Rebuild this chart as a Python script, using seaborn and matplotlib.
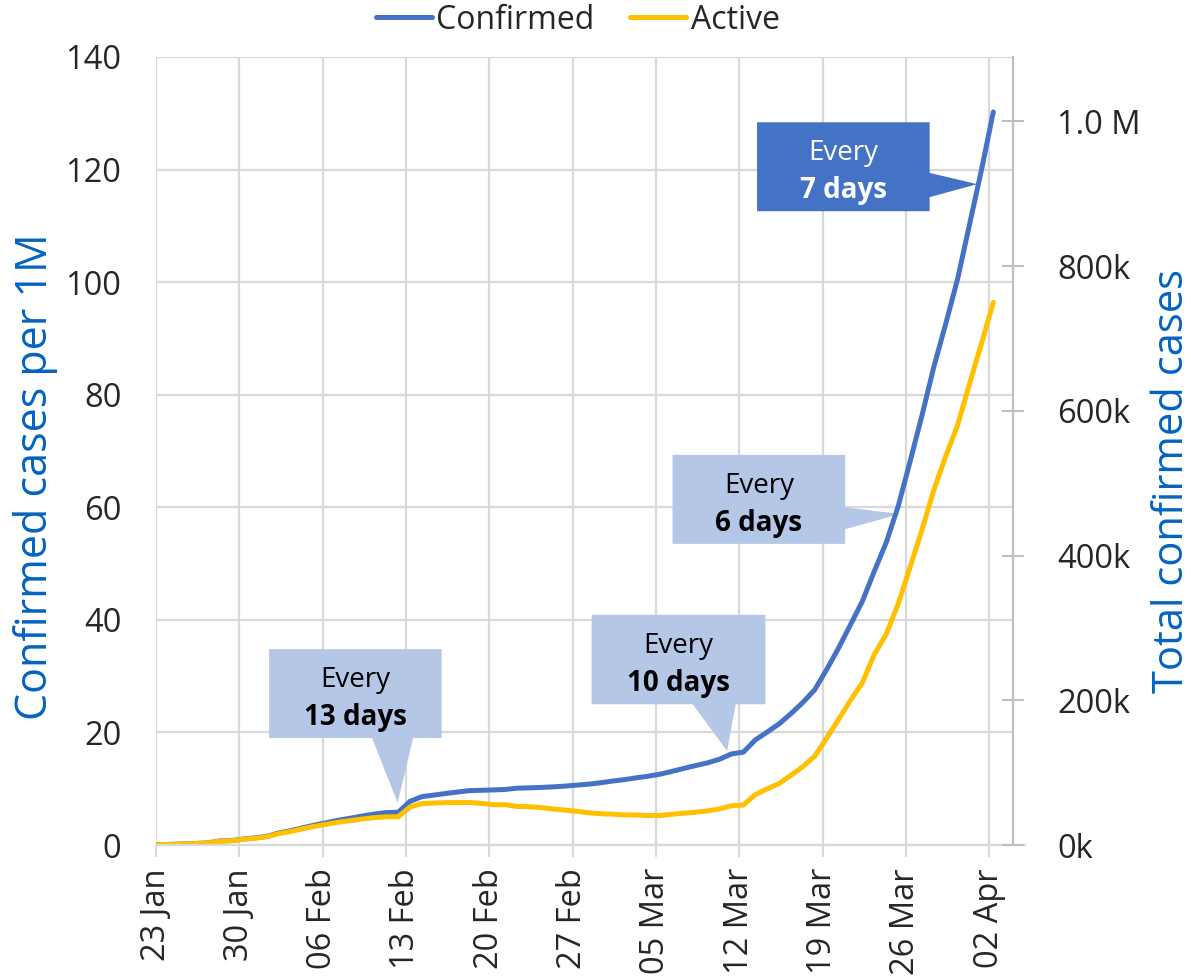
import matplotlib
matplotlib.use('Agg')
import matplotlib.pyplot as plt
import matplotlib.dates as mdates
from matplotlib.patches import Polygon
from matplotlib.ticker import FuncFormatter
import pandas as pd
import seaborn as sns

# daily values, 22 Jan .. 02 Apr (per 1M people)
start_date = '2020-01-22 08:24'
confirmed = [0.07, 0.08, 0.12, 0.18, 0.27, 0.38, 0.72, 0.79, 1.06, 1.28,
             1.55, 2.16, 2.56, 3.07, 3.55, 3.96, 4.42, 4.77, 5.16, 5.50,
             5.76, 5.81, 7.76, 8.60, 8.87, 9.15, 9.42, 9.66, 9.72, 9.79,
             9.87, 10.10, 10.15, 10.23, 10.33, 10.46, 10.64, 10.81, 11.06, 11.36,
             11.61, 11.93, 12.23, 12.58, 13.08, 13.61, 14.12, 14.60, 15.25, 16.18,
             16.50, 18.66, 20.06, 21.52, 23.34, 25.33, 27.61, 31.18, 34.99, 39.14,
             43.31, 48.62, 53.73, 60.11, 68.07, 76.26, 84.92, 92.56, 100.56, 110.22,
             119.87, 130.23]
active = [0.07, 0.08, 0.11, 0.17, 0.26, 0.36, 0.69, 0.76, 1.02, 1.22,
          1.48, 2.05, 2.42, 2.90, 3.34, 3.69, 4.07, 4.33, 4.63, 4.86,
          5.01, 5.01, 6.77, 7.37, 7.45, 7.53, 7.56, 7.55, 7.38, 7.17,
          7.16, 6.84, 6.82, 6.65, 6.40, 6.20, 6.00, 5.72, 5.56, 5.48,
          5.35, 5.33, 5.23, 5.24, 5.46, 5.65, 5.83, 6.06, 6.42, 6.97,
          7.11, 8.94, 9.98, 10.92, 12.39, 13.93, 15.79, 19.00, 22.32, 25.70,
          28.85, 33.85, 37.46, 42.79, 49.30, 55.94, 63.06, 69.04, 74.58, 81.92,
          89.03, 96.39]
series_names = ['Confirmed', 'Active']
series_colors = ['#4472C4', '#FFC000']
people_per_1m = 7780  # world population in millions, for the right axis
right_ticks = [0, 200000, 400000, 600000, 800000, 1000000]

dates = pd.date_range(start_date, periods=len(confirmed), freq='D')
df = pd.DataFrame({
    'date': list(dates) * 2,
    'value': confirmed + active,
    'series': ['Confirmed'] * len(confirmed) + ['Active'] * len(active),
})

sns.set_theme(style='whitegrid')
plt.rcParams['font.family'] = ['Open Sans', 'DejaVu Sans']
grid_c = '#d9d9d9'
label_c = '#0563C1'
tick_fs = 23.5

fig = plt.figure(figsize=(11.91, 9.77), dpi=100)
ax = fig.add_axes([0.131, 0.1351, 0.7195, 0.8066])

sns.lineplot(data=df, x='date', y='value', hue='series', hue_order=series_names,
             palette=dict(zip(series_names, series_colors)), linewidth=3.6, ax=ax)

x0 = pd.Timestamp('2020-01-23')
ax.set_xlim(x0, pd.Timestamp('2020-04-04'))
ax.set_ylim(0, 140)
ax.set_yticks(range(0, 141, 20))
ax.set_xticks(pd.date_range(x0, '2020-04-02', freq='7D'))
ax.xaxis.set_major_formatter(mdates.DateFormatter('%d %b'))
ax.tick_params(axis='x', labelsize=tick_fs, rotation=90, length=8.6, width=1.5,
               color=grid_c, pad=8, bottom=True)
ax.tick_params(axis='y', labelsize=tick_fs, length=0, pad=25)
ax.grid(color=grid_c, linewidth=1.6)
for s in ['left', 'top', 'right']:
    ax.spines[s].set_visible(False)
ax.spines['bottom'].set_color(grid_c)
ax.spines['bottom'].set_linewidth(1.6)
ax.spines['bottom'].set_bounds(mdates.date2num(x0), mdates.date2num(pd.Timestamp('2020-04-05')))
ax.set_xlabel('')
ax.set_ylabel('Confirmed cases per 1M', fontsize=31, color=label_c, va='center')
ax.yaxis.set_label_coords(-0.141, 0.467)

# right axis: total cases
ax2 = ax.twinx()
ax2.set_ylim(0, 140 * people_per_1m)
ax2.set_yticks(right_ticks)
ax2.yaxis.set_major_formatter(FuncFormatter(
    lambda v, p: f'{v / 1e6:.1f} M' if v >= 1e6 else f'{v / 1e3:.0f}k'))
ax2.grid(False)
for s in ['left', 'top', 'bottom']:
    ax2.spines[s].set_visible(False)
ax2.spines['right'].set_color('#bfbfbf')
ax2.spines['right'].set_linewidth(1.6)
ax2.tick_params(axis='y', labelsize=tick_fs, direction='inout', length=16.5, width=1.5,
                color='#bfbfbf', pad=23.4, right=True)
ax2.set_ylabel('Total confirmed cases', fontsize=30, color=label_c, va='baseline',
               rotation=90)
ax2.yaxis.set_label_coords(1.198, 0.462)

# legend on top
handles, labels = ax.get_legend_handles_labels()
ax.get_legend().remove()
fig.legend(handles, labels, loc='center', bbox_to_anchor=(0.485, 0.9795), ncol=2,
           frameon=False, fontsize=23, handlelength=1.75, handletextpad=0.15,
           columnspacing=1.1)


def day(d):
    return mdates.date2num(x0) + d


def callout(box, side, base, tip, fc, tc, bold_text):
    bx0, bx1, by0, by1 = day(box[0]), day(box[1]), box[2], box[3]
    tx, ty = day(tip[0]), tip[1]
    if side == 'bottom':
        b0, b1 = day(base[0]), day(base[1])
        pts = [(bx0, by1), (bx1, by1), (bx1, by0), (b1, by0), (tx, ty), (b0, by0), (bx0, by0)]
    else:
        pts = [(bx0, by1), (bx1, by1), (bx1, base[1]), (tx, ty), (bx1, base[0]), (bx1, by0), (bx0, by0)]
    ax.add_patch(Polygon(pts, closed=True, facecolor=fc, edgecolor='none', zorder=1.5))
    cx = (bx0 + bx1) / 2
    h = by1 - by0
    ax.text(cx, by1 - 0.427 * h, 'Every', ha='center', va='baseline', fontsize=20,
            color=tc, zorder=4)
    ax.text(cx, by1 - 0.854 * h, bold_text, ha='center', va='baseline', fontsize=20,
            fontweight='bold', color=tc, zorder=4)


callout((9.5, 24.0, 19.0, 34.8), 'bottom', (18.15, 21.6), (20.3, 7.5), '#B4C7E7', 'black', '13 days')
callout((36.6, 51.2, 25.0, 40.9), 'bottom', (45.1, 48.7), (47.98, 16.7), '#B4C7E7', 'black', '10 days')
callout((43.4, 57.9, 53.5, 69.3), 'right', (56.1, 60.0), (62.5, 58.8), '#B4C7E7', 'black', '6 days')
callout((50.5, 65.0, 112.6, 128.4), 'right', (115.1, 119.4), (69.0, 117.4), '#4472C4', 'white', '7 days')

fig.savefig('out.png', dpi=100)
